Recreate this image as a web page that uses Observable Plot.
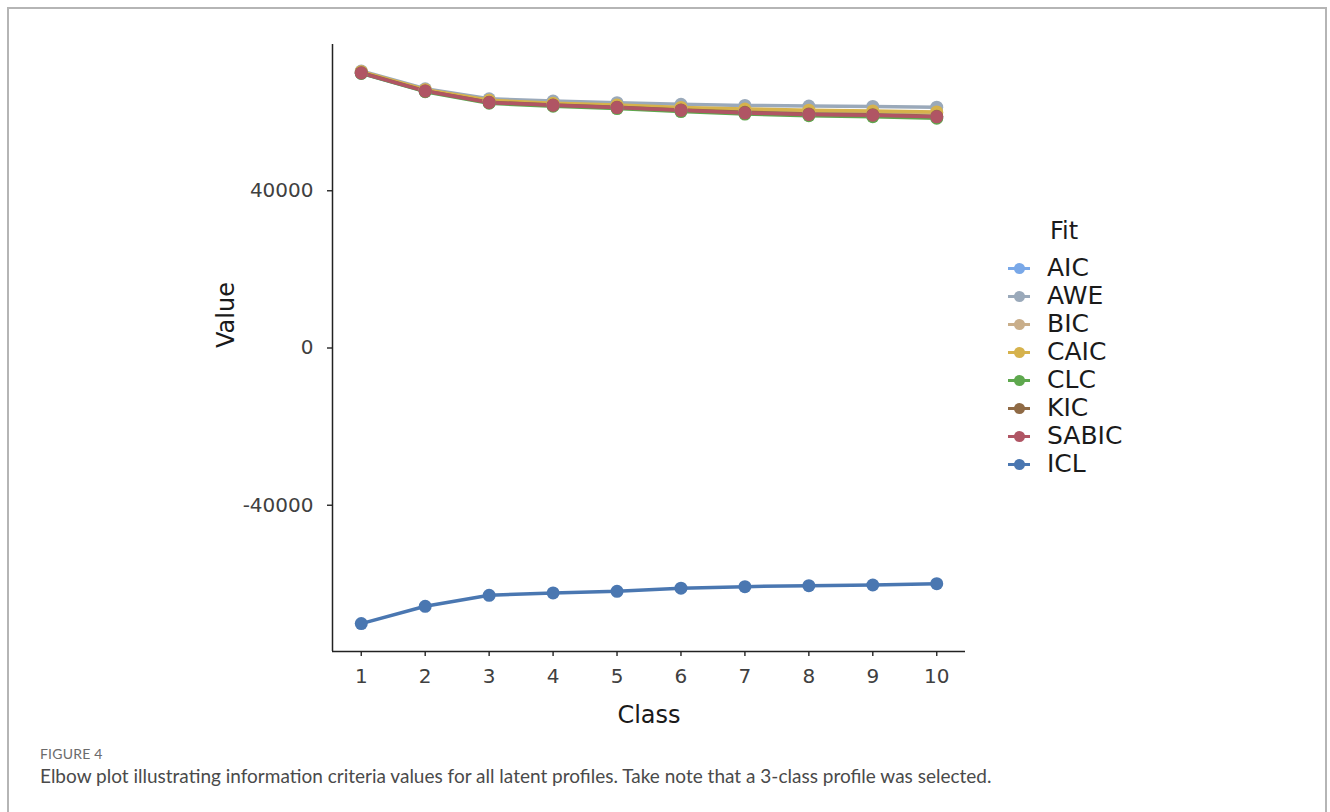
<!DOCTYPE html>
<html>
<head>
<meta charset="utf-8">
<script src="https://cdn.jsdelivr.net/npm/d3@7"></script>
<script src="https://cdn.jsdelivr.net/npm/@observablehq/plot@0.6"></script>
<style>
  html, body { margin: 0; padding: 0; background: #fff; }
  #wrap { position: relative; width: 1330px; height: 812px; overflow: hidden; }
  #frame { position: absolute; left: 7px; top: 7px; width: 1320px; height: 900px;
           border: 2px solid #b5b5b5; border-bottom: none; box-sizing: border-box; }
  #chart { position: absolute; left: 0; top: 0; }
  #legend { position: absolute; left: 1005px; top: 214px; font-family: "DejaVu Sans", sans-serif; color: #1a1a1a; }
  #legend .title { font-size: 24px; margin-left: 45px; height: 34px; line-height: 34px; margin-bottom: 6px; }
  #legend .row { position: relative; height: 28px; line-height: 28px; font-size: 25px; padding-left: 42px; }
  #legend .key { position: absolute; left: 3px; top: 12.5px; width: 22px; height: 3px; }
  #legend .dot { position: absolute; left: 8.5px; top: 8.5px; width: 11px; height: 11px; border-radius: 50%; }
  #caption { position: absolute; left: 40px; top: 745px; font-family: Lato, "Open Sans", sans-serif; }
  #caption .fig { font-size: 14px; color: #6b6b6b; letter-spacing: 0.2px; }
  #caption .txt { font-size: 19px; color: #4a4a4a; margin-top: 2px; }
</style>
</head>
<body>
<div id="wrap">
  <div id="frame"></div>
  <div id="chart"></div>
  <div id="legend"></div>
  <div id="caption">
    <div class="fig">FIGURE 4</div>
    <div class="txt">Elbow plot illustrating information criteria values for all latent profiles. Take note that a 3-class profile was selected.</div>
  </div>
</div>
<script>
const classes = [1, 2, 3, 4, 5, 6, 7, 8, 9, 10];
const fits = ["AIC", "AWE", "BIC", "CAIC", "CLC", "KIC", "SABIC", "ICL"];
const fitColors = ["#79a8e8", "#9aa9ba", "#c9ae8a", "#d6b24c", "#5ea84e", "#8f6a45", "#b05564", "#4a77b1"];
const yTicks = [-40000, 0, 40000];

const AIC   = [69900, 65300, 62400, 61700, 61100, 60400, 59750, 59350, 59100, 58700];
const AWE   = [70450, 65950, 63400, 62800, 62400, 62000, 61700, 61550, 61450, 61250];
const BIC   = [70250, 65650, 62900, 62100, 61650, 61000, 60600, 60300, 60100, 59850];
const CAIC  = [70300, 65700, 63000, 62250, 61800, 61200, 60800, 60500, 60300, 60050];
const CLC   = [69850, 65200, 62250, 61500, 60900, 60150, 59500, 59100, 58850, 58450];
const KIC   = [70000, 65400, 62500, 61800, 61250, 60550, 59950, 59550, 59350, 58950];
const SABIC = [69950, 65350, 62450, 61750, 61150, 60450, 59800, 59400, 59200, 58800];
const ICL   = [-70100, -65700, -62900, -62300, -61900, -61100, -60700, -60450, -60280, -59940];

const series = { AIC, AWE, BIC, CAIC, CLC, KIC, SABIC, ICL };
const data = fits.flatMap(f => classes.map((c, i) => ({ fit: f, cls: c, value: series[f][i] })));

const chart = Plot.plot({
  width: 1330,
  height: 740,
  marginLeft: 332,
  marginRight: 365,
  marginTop: 44,
  marginBottom: 89,
  style: { fontFamily: "DejaVu Sans, sans-serif", background: "transparent", overflow: "visible" },
  x: { domain: [0.55, 10.45] },
  y: { domain: [-77200, 77200] },
  color: { domain: fits, range: fitColors },
  marks: [
    Plot.axisX({ ticks: classes, tickSize: 5, tickPadding: 12, fontSize: 20, fill: "#404040", stroke: "#333", strokeWidth: 1.5, label: null }),
    Plot.axisY({ ticks: yTicks, tickSize: 5, tickPadding: 14, tickFormat: d => String(d), fontSize: 20, fill: "#404040", stroke: "#333", strokeWidth: 1.5, label: null }),
    Plot.ruleX([0.55], { stroke: "#222", strokeWidth: 1.5 }),
    Plot.ruleY([-77200], { stroke: "#222", strokeWidth: 1.5 }),
    Plot.line(data, { x: "cls", y: "value", z: "fit", stroke: "fit", strokeWidth: 3.5 }),
    Plot.dot(data, { x: "cls", y: "value", fill: "fit", r: 6.5 }),
    Plot.text(["Class"], { frameAnchor: "bottom", dy: 71, fontSize: 24, fill: "#1a1a1a" }),
    Plot.text(["Value"], { frameAnchor: "left", dx: -106, rotate: -90, fontSize: 24, fill: "#1a1a1a" })
  ]
});
document.getElementById("chart").appendChild(chart);

const legend = document.getElementById("legend");
const t = document.createElement("div");
t.className = "title";
t.textContent = "Fit";
legend.appendChild(t);
fits.forEach((f, i) => {
  const row = document.createElement("div");
  row.className = "row";
  const key = document.createElement("span");
  key.className = "key";
  key.style.background = fitColors[i];
  const dot = document.createElement("span");
  dot.className = "dot";
  dot.style.background = fitColors[i];
  row.appendChild(key);
  row.appendChild(dot);
  row.appendChild(document.createTextNode(f));
  legend.appendChild(row);
});
</script>
</body>
</html>
